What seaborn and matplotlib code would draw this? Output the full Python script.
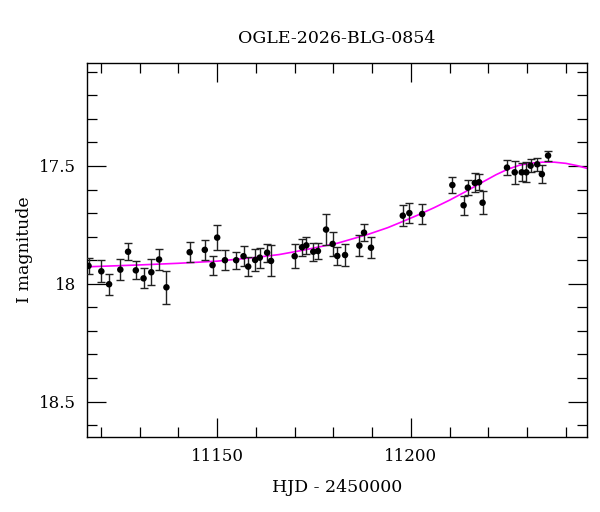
import numpy as np
import pandas as pd
import matplotlib
matplotlib.use('Agg')
import matplotlib.pyplot as plt
import seaborn as sns
from matplotlib.ticker import MultipleLocator, FixedLocator, FixedFormatter

# --- データ ---
hjd = [11116.8, 11120.1, 11122.1, 11125.0, 11127.0, 11129.0, 11131.0, 11133.0,
       11135.0, 11136.9, 11142.9, 11146.8, 11148.8, 11150.0, 11152.0, 11154.9,
       11156.8, 11158.0, 11159.8, 11161.0, 11162.9, 11163.9, 11170.0, 11171.9,
       11173.0, 11174.8, 11176.0, 11178.1, 11179.8, 11181.0, 11183.0, 11186.7,
       11187.9, 11189.7, 11197.9, 11199.6, 11202.9, 11210.7, 11213.6, 11214.7,
       11216.5, 11217.6, 11218.5, 11224.8, 11226.8, 11228.6, 11229.8, 11230.9,
       11232.6, 11233.8, 11235.4]
mag = [17.924, 17.947, 18.002, 17.940, 17.864, 17.943, 17.977, 17.951,
       17.897, 18.015, 17.866, 17.856, 17.921, 17.804, 17.900, 17.900,
       17.883, 17.927, 17.899, 17.889, 17.868, 17.903, 17.883, 17.845,
       17.837, 17.864, 17.861, 17.770, 17.831, 17.882, 17.878, 17.838,
       17.783, 17.847, 17.711, 17.700, 17.704, 17.581, 17.667, 17.592,
       17.572, 17.569, 17.656, 17.507, 17.527, 17.527, 17.527, 17.499,
       17.493, 17.535, 17.456]
mag_err = [0.033, 0.046, 0.044, 0.044, 0.037, 0.038, 0.042, 0.056,
           0.044, 0.071, 0.042, 0.043, 0.040, 0.054, 0.042, 0.036,
           0.042, 0.039, 0.045, 0.042, 0.038, 0.066, 0.052, 0.037,
           0.035, 0.039, 0.032, 0.064, 0.049, 0.038, 0.045, 0.044,
           0.036, 0.045, 0.044, 0.042, 0.044, 0.033, 0.040, 0.031,
           0.040, 0.035, 0.050, 0.033, 0.049, 0.038, 0.042, 0.028,
           0.027, 0.039, 0.021]

# model curve
model_hjd = [11116.4, 11130, 11140, 11150, 11160, 11166, 11172, 11181, 11189,
             11194, 11198, 11202, 11206, 11210, 11214, 11218, 11222, 11225,
             11228, 11231, 11234, 11237, 11240, 11243, 11245.4]
model_mag = [17.928, 17.920, 17.913, 17.904, 17.888, 17.876, 17.858, 17.828,
             17.790, 17.762, 17.735, 17.707, 17.677, 17.645, 17.610, 17.573,
             17.537, 17.514, 17.497, 17.488, 17.484, 17.484, 17.489, 17.499,
             17.510]

ytick_vals = [17.5, 18.0, 18.5]
ytick_labels = ['17.5', '18', '18.5']
xtick_vals = [11150, 11200]
xtick_labels = ['11150', '11200']

df = pd.DataFrame({'HJD': hjd, 'mag': mag, 'err': mag_err})
model = pd.DataFrame({'HJD': model_hjd, 'mag': model_mag})

sns.set_style('ticks')
plt.rcParams['font.family'] = ['DejaVu Serif']
plt.rcParams['text.color'] = 'black'
plt.rcParams['axes.labelcolor'] = 'black'
plt.rcParams['xtick.color'] = 'black'
plt.rcParams['ytick.color'] = 'black'

fig, ax = plt.subplots(figsize=(6, 5.12), dpi=100)
fig.subplots_adjust(left=0.145, right=0.978, top=0.8775, bottom=0.147)

sns.lineplot(data=model, x='HJD', y='mag', color='#ff00ff', lw=1.2, ax=ax, zorder=2)
ax.errorbar(df['HJD'], df['mag'], yerr=df['err'], fmt='none', ecolor='#222222',
            elinewidth=1.0, capsize=3, capthick=1.0, zorder=3)
sns.scatterplot(data=df, x='HJD', y='mag', color='black', s=22, edgecolor='none',
                ax=ax, zorder=4)

ax.set_xlim(11116.4, 11245.4)
ax.set_ylim(18.649, 17.062)

ax.xaxis.set_major_locator(FixedLocator(xtick_vals))
ax.xaxis.set_major_formatter(FixedFormatter(xtick_labels))
ax.xaxis.set_minor_locator(MultipleLocator(10))
ax.yaxis.set_major_locator(FixedLocator(ytick_vals))
ax.yaxis.set_major_formatter(FixedFormatter(ytick_labels))
ax.yaxis.set_minor_locator(MultipleLocator(0.1))

ax.tick_params(which='both', direction='in', top=True, right=True, width=0.9,
               labelsize=12, color='black', labelcolor='black')
ax.tick_params(which='major', length=14, pad=8)
ax.tick_params(which='minor', length=7)
for sp in ax.spines.values():
    sp.set_linewidth(1.0)
    sp.set_color('black')

ax.set_xlabel('HJD - 2450000', fontsize=12.5, labelpad=10, color='black')
ax.set_ylabel('I magnitude', fontsize=12.5, labelpad=4, color='black')
ax.set_title('OGLE-2026-BLG-0854', fontsize=12.5, pad=14, color='black')

plt.savefig('out.png', dpi=100)
print("Saved: out.png")
